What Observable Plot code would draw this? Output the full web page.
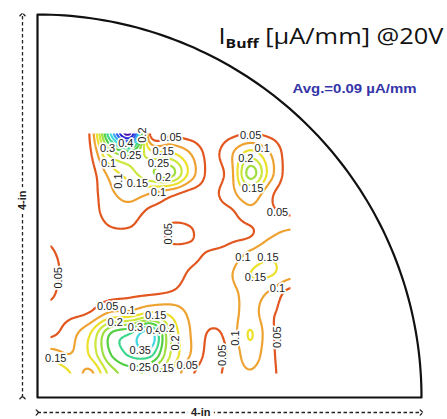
<!DOCTYPE html>
<html>
<head>
<meta charset="utf-8">
<script src="https://cdn.jsdelivr.net/npm/d3@7"></script>
<script src="https://cdn.jsdelivr.net/npm/@observablehq/plot@0.6"></script>
<style>
  html, body { margin: 0; padding: 0; background: #fff; }
</style>
</head>
<body>
<script>
// ---- Data ----
// Wafer quarter: 4-inch radius
const waferRadius = 4;
// Measured map area (inches)
const gridX0 = 0.135, gridX1 = 2.635, gridY0 = 0.251, gridY1 = 2.757;
// I_Buff values [µA/mm], rows top (high y) to bottom, columns left to right
const row0  = [0.02, 0.02, 0.06, 0.40, 0.60, 0.04, 0.04, 0.03, 0.02, 0.04, 0.05, 0.04, 0.02];
const row1  = [0.02, 0.02, 0.045, 0.22, 0.27, 0.17, 0.16, 0.10, 0.035, 0.09, 0.17, 0.10, 0.02];
const row2  = [0.02, 0.02, 0.03, 0.12, 0.18, 0.24, 0.27, 0.13, 0.035, 0.08, 0.27, 0.12, 0.02];
const row3  = [0.02, 0.02, 0.03, 0.09, 0.12, 0.10, 0.065, 0.035, 0.035, 0.08, 0.14, 0.06, 0.02];
const row4  = [0.02, 0.02, 0.03, 0.07, 0.075, 0.035, 0.04, 0.035, 0.03, 0.04, 0.08, 0.06, 0.045];
const row5  = [0.04, 0.02, 0.02, 0.04, 0.04, 0.02, 0.06, 0.055, 0.02, 0.035, 0.045, 0.09, 0.11];
const row6  = [0.055, 0.03, 0.02, 0.02, 0.02, 0.02, 0.035, 0.04, 0.055, 0.07, 0.11, 0.14, 0.12];
const row7  = [0.065, 0.03, 0.02, 0.03, 0.02, 0.02, 0.03, 0.055, 0.07, 0.095, 0.15, 0.155, 0.12];
const row8  = [0.055, 0.03, 0.03, 0.035, 0.04, 0.045, 0.055, 0.07, 0.075, 0.085, 0.12, 0.09, 0.03];
const row9  = [0.04, 0.04, 0.055, 0.11, 0.12, 0.16, 0.14, 0.09, 0.07, 0.08, 0.12, 0.06, 0.03];
const row10 = [0.04, 0.08, 0.15, 0.30, 0.35, 0.42, 0.20, 0.10, 0.045, 0.07, 0.153, 0.06, 0.03];
const row11 = [0.12, 0.10, 0.16, 0.30, 0.36, 0.37, 0.20, 0.10, 0.035, 0.06, 0.13, 0.06, 0.03];
const row12 = [0.20, 0.15, 0.09, 0.22, 0.27, 0.22, 0.15, 0.06, 0.03, 0.07, 0.095, 0.06, 0.03];
const gridRows = [row0, row1, row2, row3, row4, row5, row6, row7, row8, row9, row10, row11, row12];

// Contour levels and their colours
const levels = [0.05, 0.1, 0.15, 0.2, 0.25, 0.3, 0.35, 0.4, 0.45, 0.5, 0.55, 0.6];
const levelColors = ["#e2561f", "#eda232", "#ece02a", "#cce63c", "#9ede3e", "#52cf42",
                     "#3cd78c", "#42d8e0", "#3aa6f0", "#3060ee", "#2a2ad0", "#5210b0"];

// Contour labels
const labelText = ["0.3","0.4","0.2","0.25","0.1","0.05","0.15","0.25","0.1","0.15","0.2","0.1",
                   "0.05",
                   "0.05","0.1","0.2","0.15","0.05",
                   "0.1","0.15","0.15","0.1","0.1","0.05","0.05",
                   "0.05",
                   "0.05","0.1","0.15","0.2","0.3","0.4","0.2","0.2","0.35","0.15","0.25","0.15","0.05"];
const labelX = [0.73,0.92,1.09,0.97,0.74,1.39,1.31,1.26,0.84,1.04,1.31,1.26,
                1.36,
                2.22,2.34,2.17,2.24,2.50,
                2.14,2.40,2.27,2.50,2.06,2.50,1.93,
                0.22,
                0.73,0.94,1.23,0.81,1.02,1.21,1.35,1.44,1.07,0.19,1.07,1.31,1.56];
const labelY = [2.60,2.65,2.74,2.53,2.44,2.72,2.57,2.44,2.26,2.24,2.30,2.14,
                1.71,
                2.74,2.60,2.50,2.18,1.93,
                1.46,1.46,1.25,1.14,0.62,0.63,0.44,
                1.25,
                0.95,0.91,0.86,0.78,0.73,0.70,0.72,0.57,0.49,0.41,0.31,0.30,0.33];
const labelRotate = [0,0,-90,0,0,0,0,0,-90,0,0,0,
                     -90,
                     0,0,0,0,0,
                     0,0,0,0,-90,-90,-90,
                     -90,
                     0,0,0,0,0,0,0,-90,0,0,0,0,0];

// Texts
const titleMain = "I";
const titleSub = "Buff";
const titleRest = " [µA/mm] @20V";
const avgText = "Avg.=0.09 µA/mm";
const dimText = "4-in";
const dimLabelLeftY = 2.06;
const dimLabelBottomX = 1.70;

// ---- Build ----
const nCols = row0.length, nRows = gridRows.length;
const clampI = (v, n) => Math.max(0, Math.min(n - 1, v));
const clampF = (v, lo, hi) => Math.max(lo, Math.min(hi, v));
const cr = (p0, p1, p2, p3, t) =>
  0.5 * (2 * p1 + (-p0 + p2) * t + (2 * p0 - 5 * p1 + 4 * p2 - p3) * t * t + (-p0 + 3 * p1 - 3 * p2 + p3) * t * t * t);
function gridValue(x, y) {
  const gx = clampF((x - gridX0) / (gridX1 - gridX0) * (nCols - 1), 0, nCols - 1);
  const gy = clampF((gridY1 - y) / (gridY1 - gridY0) * (nRows - 1), 0, nRows - 1);
  const i = Math.min(Math.floor(gx), nCols - 2), j = Math.min(Math.floor(gy), nRows - 2);
  const tx = gx - i, ty = gy - j;
  const v = (r, c) => gridRows[clampI(r, nRows)][clampI(c, nCols)];
  const col = [];
  for (let m = -1; m <= 2; m++) col.push(cr(v(j + m, i - 1), v(j + m, i), v(j + m, i + 1), v(j + m, i + 2), tx));
  return cr(col[0], col[1], col[2], col[3], ty);
}
// sample slightly beyond the map so that the contours are open at its edges (clipped afterwards)
const pad = 0.08;

// wafer outline: quarter circle plus the two straight edges
const arcSteps = d3.range(0, 91, 1);
const outline = [{x: 0, y: 0}]
  .concat(arcSteps.map(a => ({x: waferRadius * Math.sin(a * Math.PI / 180), y: waferRadius * Math.cos(a * Math.PI / 180)})))
  .concat([{x: 0, y: 0}]);

const labels = labelText.map((t, i) => ({t, x: labelX[i], y: labelY[i], r: labelRotate[i]}));

const chart = Plot.plot({
  width: 447,
  height: 419,
  marginLeft: 37,
  marginRight: 26,
  marginTop: 14,
  marginBottom: 22,
  x: {domain: [0, waferRadius], axis: null},
  y: {domain: [0, waferRadius], axis: null},
  color: {type: "ordinal", domain: levels, range: levelColors},
  style: {background: "white", fontFamily: "Liberation Sans, Arial, sans-serif"},
  marks: [
    Plot.contour({
      x1: gridX0 - pad, x2: gridX1 + pad, y1: gridY0 - pad, y2: gridY1 + pad,
      value: gridValue,
      thresholds: levels,
      pixelSize: 1,
      stroke: "value",
      fill: "none",
      strokeWidth: 2.2,
      ariaLabel: "contour"
    }),
    Plot.text(labels, {
      x: "x", y: "y", text: "t", rotate: "r",
      fontSize: 11, fill: "#222", stroke: "white", strokeWidth: 3.5
    }),
    Plot.line(outline, {x: "x", y: "y", stroke: "#111", strokeWidth: 2.2}),
    // dimension arrows
    Plot.link([0], {x1: 0, x2: 0, y1: 0, y2: waferRadius, dx: -15,
      stroke: "#222", strokeWidth: 1.3, strokeDasharray: "3.5,2.5", markerStart: "arrow", markerEnd: "arrow"}),
    Plot.link([0], {x1: 0, x2: waferRadius, y1: 0, y2: 0, dy: 15,
      stroke: "#222", strokeWidth: 1.3, strokeDasharray: "3.5,2.5", markerStart: "arrow", markerEnd: "arrow"}),
    Plot.text([dimText], {x: 0, y: dimLabelLeftY, dx: -15, rotate: -90, text: d => d,
      fontSize: 11, fontWeight: "bold", fill: "#222", stroke: "white", strokeWidth: 8}),
    Plot.text([dimText], {x: dimLabelBottomX, y: 0, dy: 15, text: d => d,
      fontSize: 11, fontWeight: "bold", fill: "#222", stroke: "white", strokeWidth: 8}),
    // title and average
    Plot.text([titleMain], {frameAnchor: "top-left", dx: 181, dy: 29, text: d => d, textAnchor: "start",
      lineAnchor: "bottom", fontSize: 21, fontFamily: "Open Sans", fill: "#111"}),
    Plot.text([avgText], {frameAnchor: "top-left", dx: 255, dy: 78, text: d => d, textAnchor: "start",
      lineAnchor: "bottom", fontSize: 13, fontWeight: "bold", fill: "#3535a8"})
  ]
});
document.body.append(chart);

const ns = "http://www.w3.org/2000/svg";
// clip the contours to the measured map area
const contourG = chart.querySelector('g[aria-label="contour"]');
if (contourG) {
  const sx = chart.scale("x"), sy = chart.scale("y");
  const cx0 = sx.apply(gridX0), cx1 = sx.apply(gridX1), cy0 = sy.apply(gridY1), cy1 = sy.apply(gridY0);
  const defs = document.createElementNS(ns, "defs");
  const cp = document.createElementNS(ns, "clipPath");
  cp.setAttribute("id", "map-clip");
  const r = document.createElementNS(ns, "rect");
  r.setAttribute("x", cx0); r.setAttribute("y", cy0);
  r.setAttribute("width", cx1 - cx0); r.setAttribute("height", cy1 - cy0);
  cp.append(r); defs.append(cp); chart.prepend(defs);
  contourG.setAttribute("clip-path", "url(#map-clip)");
}

// Title with subscript, stretched like the reference
const tEl = [...chart.querySelectorAll("text")].find(t => t.textContent === titleMain);
if (tEl) {
  tEl.textContent = titleMain;
  const sub = document.createElementNS(ns, "tspan");
  sub.setAttribute("font-size", "13");
  sub.setAttribute("font-weight", "bold");
  sub.setAttribute("dy", "4.5");
  sub.textContent = titleSub;
  const rest = document.createElementNS(ns, "tspan");
  rest.setAttribute("font-size", "21");
  rest.setAttribute("dy", "-4.5");
  rest.textContent = titleRest;
  tEl.append(sub, rest);
  tEl.setAttribute("textLength", "225");
  tEl.setAttribute("lengthAdjust", "spacingAndGlyphs");
}
const aEl = [...chart.querySelectorAll("text")].find(t => t.textContent === avgText);
if (aEl) {
  aEl.setAttribute("textLength", "124");
  aEl.setAttribute("lengthAdjust", "spacingAndGlyphs");
}
</script>
</body>
</html>
